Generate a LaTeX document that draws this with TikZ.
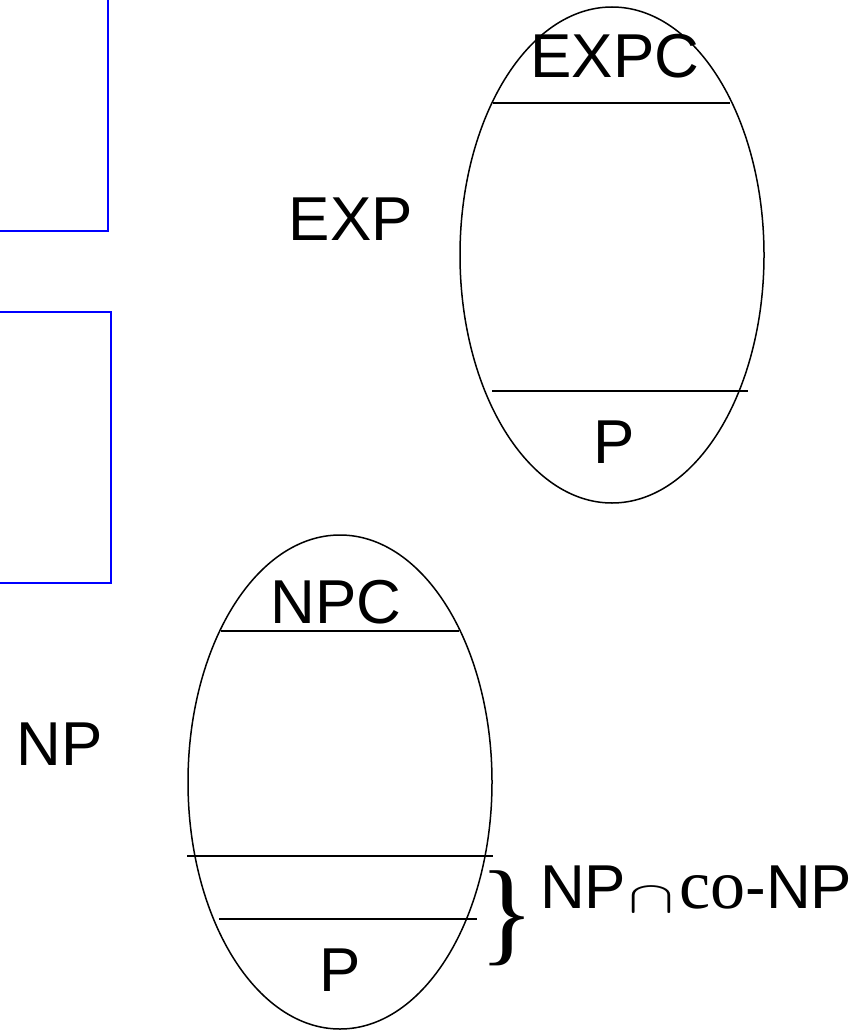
\documentclass[tikz,border=0pt]{standalone}
\usepackage{fontspec}
\usepackage{graphicx}
\setmainfont{Liberation Sans}
\newfontfamily\timesfont{Liberation Serif}
\begin{document}
\begin{tikzpicture}[x=1pt,y=-1pt,
  lbl/.style={inner sep=0pt,anchor=base,font=\fontsize{62}{70}\selectfont},
  sep/.style={line width=1.5pt},
  cls/.style={line width=1.5pt},
  bluebox/.style={draw=blue,line width=1.5pt}]
\useasboundingbox (0,0) rectangle (860,1030);
\clip (0,0) rectangle (860,1030);
% blue boxes
\draw[bluebox] (-10,-10) rectangle (108,231);
\draw[bluebox] (-10,312) rectangle (111,583);
% EXP ellipse
\draw[cls] (612,255) ellipse [x radius=152pt, y radius=248pt];
\draw[sep] (493,103) -- (730,103);
\draw[sep] (492,391) -- (748,391);
\node[lbl] (expc) at (615,78) {EXPC};
\node[lbl] (p1) at (614,463) {P};
\node[lbl] (exp) at (351,240) {EXP};
% NP ellipse
\draw[cls] (340,782) ellipse [x radius=152pt, y radius=247pt];
\draw[sep] (221,631) -- (459,631);
\draw[sep] (187,856) -- (493,856);
\draw[sep] (219,919) -- (477,919);
\node[lbl] (npc) at (336,623) {NPC};
\node[lbl] (p2) at (340,991) {P};
\node[lbl] (np) at (60,765) {NP};
\node[inner sep=0pt,font=\timesfont\fontsize{115}{120}\selectfont] (brace) at (507,918) {\}};
\node[lbl,anchor=base west] (npconp) at (540,908) {NP\hspace{2pt}\raisebox{-4pt}{\resizebox{46pt}{25pt}{$\cap$}}\hspace{5pt}{\timesfont\fontsize{70}{74}\selectfont co}-NP};
\end{tikzpicture}
\end{document}
